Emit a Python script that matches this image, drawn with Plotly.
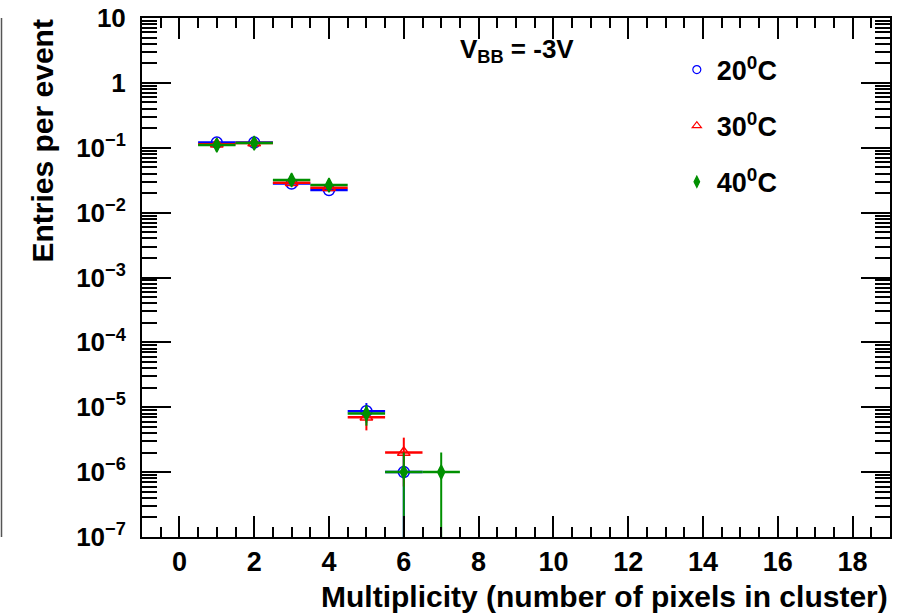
import plotly.graph_objects as go

# ---- data ----
multiplicity_20 = [1, 2, 3, 4, 5, 6]
entries_20 = [0.12, 0.12, 0.028, 0.0223, 8.7e-6, 1.0e-6]
err_20 = [3.5e-4, 3.5e-4, 1.7e-4, 1.5e-4, 2.9e-6, 1.0e-6]

multiplicity_30 = [1, 2, 3, 4, 5, 6]
entries_30 = [0.113, 0.118, 0.029, 0.0242, 7.0e-6, 2.0e-6]
err_30 = [3.4e-4, 3.4e-4, 1.7e-4, 1.6e-4, 2.6e-6, 1.4e-6]

multiplicity_40 = [1, 2, 3, 4, 5, 6, 7]
entries_40 = [0.110, 0.118, 0.0318, 0.0266, 8.0e-6, 1.0e-6, 1.0e-6]
err_40 = [3.3e-4, 3.4e-4, 1.8e-4, 1.6e-4, 2.8e-6, 1.0e-6, 1.0e-6]

bin_half_width = 0.5

series_names = ["20<sup>0</sup>C", "30<sup>0</sup>C", "40<sup>0</sup>C"]
series_colors = ["#0000ff", "#ff0000", "#009000"]
series_symbols = ["circle-open", "triangle-up-open", "diamond-tall"]

y_tick_vals = [1e-7, 1e-6, 1e-5, 1e-4, 1e-3, 1e-2, 1e-1, 1, 10]
y_tick_text = ["10<sup>−7</sup>", "10<sup>−6</sup>", "10<sup>−5</sup>", "10<sup>−4</sup>",
               "10<sup>−3</sup>", "10<sup>−2</sup>", "10<sup>−1</sup>", "1", "10"]

x_title = "Multiplicity (number of pixels in cluster)"
y_title = "Entries per event"
label_text = "V<sub>BB</sub>\u00a0=\u00a0-3V"

FONT = "Liberation Sans, Arial, Helvetica, sans-serif"

fig = go.Figure()

datasets = [
    (multiplicity_20, entries_20, err_20),
    (multiplicity_30, entries_30, err_30),
    (multiplicity_40, entries_40, err_40),
]

for (xs, ys, es), name, color, sym in zip(datasets, series_names, series_colors, series_symbols):
    size = 10 if sym == "diamond-tall" else 11
    fig.add_trace(go.Scatter(
        x=xs, y=ys, mode="markers", name=name, showlegend=False,
        marker=dict(symbol=sym, size=size, color=color, line=dict(color=color, width=1.5)),
        error_y=dict(type="data", array=es, arrayminus=es, color=color, thickness=2, width=0),
        error_x=dict(type="constant", value=bin_half_width, color=color, thickness=2.5, width=0),
    ))

# legend-only entries (smaller markers as in the reference)
for i, (name, color, sym) in enumerate(zip(series_names, series_colors, series_symbols)):
    fig.add_trace(go.Scatter(
        x=[None], y=[None], mode="markers", name=name, legendgroup=f"g{i}",
        marker=dict(symbol=sym, size=8, color=color, line=dict(color=color, width=1.2)),
    ))

fig.update_layout(
    width=919, height=615,
    margin=dict(l=142, r=29, t=18, b=78, autoexpand=False),
    paper_bgcolor="white", plot_bgcolor="white",
    font=dict(family=FONT, color="black"),
    legend=dict(
        x=0.715, y=0.947, xanchor="left", yanchor="top",
        font=dict(family=FONT, size=27, weight="bold", color="black"),
        bgcolor="rgba(0,0,0,0)", tracegroupgap=18, traceorder="grouped",
    ),
)

fig.update_xaxes(
    range=[-1, 19], tick0=0, dtick=2, automargin=False,
    ticks="inside", ticklen=21, tickwidth=1.5, tickcolor="black",
    minor=dict(ticks="inside", dtick=0.5, ticklen=10, tickwidth=1.5, tickcolor="black"),
    showline=True, linecolor="black", linewidth=2, mirror="allticks",
    showgrid=False, zeroline=False,
    tickfont=dict(family=FONT, size=27, weight="bold", color="black"),
    ticklabelstandoff=0,
)

fig.update_yaxes(
    type="log", range=[-7, 1], automargin=False,
    tickvals=y_tick_vals, ticktext=y_tick_text,
    ticks="inside", ticklen=29, tickwidth=1.5, tickcolor="black",
    minor=dict(ticks="inside", dtick="D1", ticklen=15, tickwidth=1.5, tickcolor="black"),
    showline=True, linecolor="black", linewidth=2, mirror="allticks",
    showgrid=False, zeroline=False,
    tickfont=dict(family=FONT, size=26, weight="bold", color="black"),
    ticklabelstandoff=9,
)

fig.add_annotation(
    text=y_title, xref="paper", yref="paper", x=(42 - 142) / 748, y=1.0,
    xanchor="center", yanchor="top", textangle=-90, showarrow=False,
    font=dict(family=FONT, size=30, weight="bold", color="black"),
)
fig.add_annotation(
    text=x_title, xref="paper", yref="paper", x=1.0, y=(537 - 596) / 519,
    xanchor="right", yanchor="middle", showarrow=False,
    font=dict(family=FONT, size=30, weight="bold", color="black"),
)
fig.add_annotation(
    text=label_text, xref="paper", yref="paper", x=(517 - 142) / 748, y=1 - (50 - 18) / 519,
    xanchor="center", yanchor="middle", showarrow=False,
    font=dict(family=FONT, size=26, weight="bold", color="black"),
)

# frame edge visible at the far left of the picture
fig.add_shape(type="line", xref="paper", yref="paper",
              x0=(1.5 - 142) / 748, x1=(1.5 - 142) / 748, y0=0, y1=1,
              line=dict(color="#555555", width=1.5))

fig.write_html("out.html", config={"displayModeBar": False},
               post_script="document.body.style.margin='0px';")
